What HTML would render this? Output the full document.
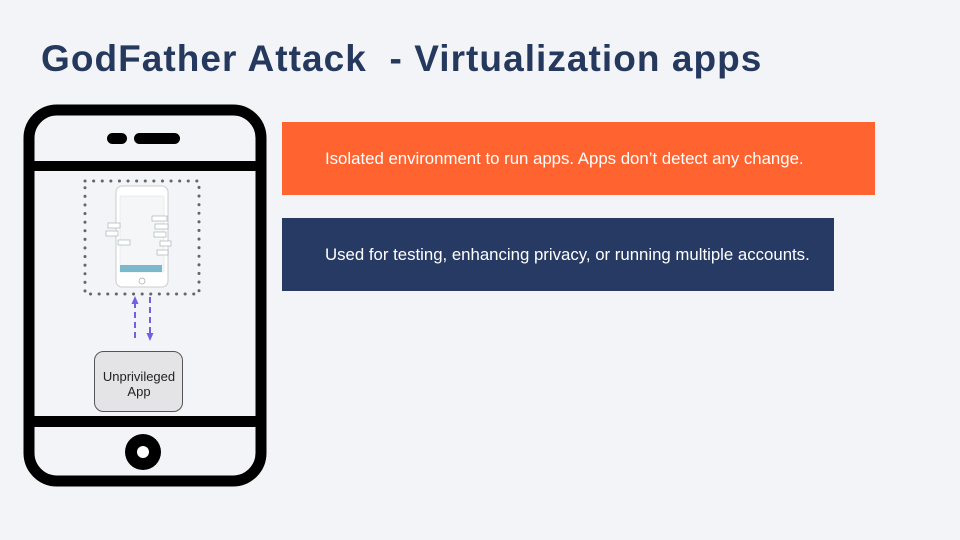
<!DOCTYPE html>
<html><head><meta charset="utf-8"><style>
body{margin:0;width:960px;height:540px;background:#f3f4f7;font-family:"Liberation Sans",sans-serif;overflow:hidden;position:relative}
.t{position:absolute;left:41px;top:38px;font-size:37px;font-weight:bold;color:#25395f;letter-spacing:1.05px}
.b{position:absolute;color:#fff;font-size:16.8px;padding-left:43px;box-sizing:border-box;display:flex;align-items:center}
</style></head><body>
<div class="t">GodFather Attack&nbsp; - Virtualization apps</div>
<div class="b" style="left:282px;top:122px;width:593px;height:73px;background:#fe6330">Isolated environment to run apps. Apps don’t detect any change.</div>
<div class="b" style="left:282px;top:218px;width:552px;height:73px;background:#273a64">Used for testing, enhancing privacy, or running multiple accounts.</div>
<svg width="960" height="540" style="position:absolute;left:0;top:0">
<defs><marker id="a" markerUnits="userSpaceOnUse" markerWidth="8" markerHeight="8" refX="6" refY="4" orient="auto"><path d="M0,0.5 L8,4 L0,7.5 Z" fill="#7360e0"/></marker></defs>
<rect x="29" y="110" width="232" height="371" rx="28" fill="none" stroke="#000" stroke-width="11"/>
<rect x="29" y="161" width="232" height="10" fill="#000"/>
<rect x="29" y="416" width="232" height="11" fill="#000"/>
<rect x="107" y="133" width="20" height="11" rx="5.5" fill="#000"/>
<rect x="134" y="133" width="46" height="11" rx="5.5" fill="#000"/>
<circle cx="143" cy="452" r="18" fill="#000"/><circle cx="143" cy="452" r="6" fill="#fff"/>
<rect x="85" y="181" width="114" height="113" fill="none" stroke="#666" stroke-width="3" stroke-dasharray="0.1 8.5" stroke-linecap="round"/>
<rect x="116" y="186" width="52" height="101" rx="6" fill="#fff" stroke="#ccc"/>
<rect x="120" y="196" width="44" height="76" fill="#f4f6f8" stroke="#ddd" stroke-width="0.5"/>
<rect x="120" y="265" width="42" height="7" fill="#7cb8cc"/>
<g stroke="#9aa" stroke-width="0.6" fill="#fff">
<rect x="108" y="223" width="12" height="5"/><rect x="106" y="231" width="12" height="5"/><rect x="152" y="216" width="15" height="5"/><rect x="155" y="224" width="13" height="5"/><rect x="154" y="232" width="12" height="5"/><rect x="160" y="241" width="11" height="5"/><rect x="157" y="250" width="11" height="5"/><rect x="118" y="240" width="12" height="5"/>
</g>
<circle cx="142" cy="281" r="3" fill="none" stroke="#aaa" stroke-width="0.7"/>
<line x1="135" y1="338" x2="135" y2="298" stroke="#7360e0" stroke-width="2" stroke-dasharray="6 4" marker-end="url(#a)"/>
<line x1="150" y1="297" x2="150" y2="339" stroke="#7360e0" stroke-width="2" stroke-dasharray="6 4" marker-end="url(#a)"/>
<rect x="94.5" y="351.5" width="88" height="60" rx="9" fill="#e4e4e6" stroke="#555"/>
<text x="139" y="381" font-size="13" text-anchor="middle" fill="#222" font-family="Liberation Sans">Unprivileged</text>
<text x="139" y="396" font-size="13" text-anchor="middle" fill="#222" font-family="Liberation Sans">App</text>
</svg>
</body></html>
